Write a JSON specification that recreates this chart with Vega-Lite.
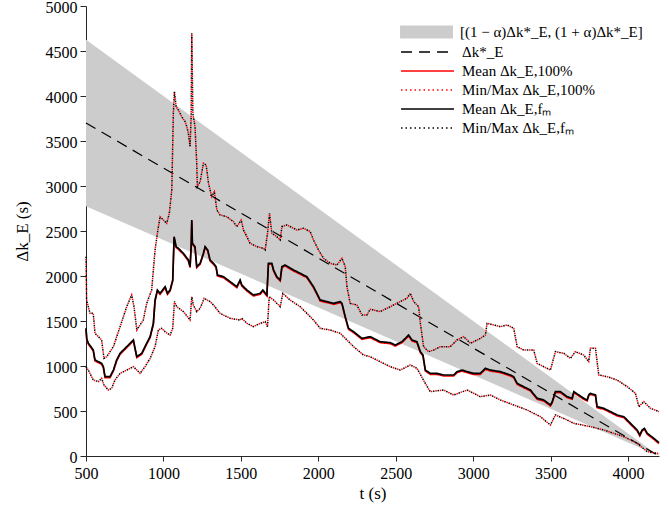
{
  "$schema": "https://vega.github.io/schema/vega-lite/v6.json",
  "width": 573,
  "height": 450,
  "autosize": "none",
  "padding": {"left": 86, "top": 6, "right": 10, "bottom": 54},
  "background": "white",
  "config": {
    "view": {"stroke": null},
    "font": "Liberation Serif",
    "axis": {
      "grid": false,
      "labelFont": "Liberation Serif",
      "labelFontSize": 16,
      "labelColor": "#000",
      "titleFont": "Liberation Serif",
      "titleFontSize": 17,
      "titleFontWeight": "normal",
      "titleColor": "#000",
      "domainColor": "#262626",
      "tickColor": "#262626",
      "domainWidth": 1,
      "tickWidth": 1,
      "format": "d"
    }
  },
  "datasets": {
    "band": [
      {"t": 500, "lo": 2775, "hi": 4625, "k": 3700},
      {"t": 4200, "lo": 0, "hi": 0, "k": 0}
    ],
    "mean": [
      {"t":500,"v":1419},{"t":505,"v":1300},{"t":515,"v":1254},{"t":547,"v":1178},{"t":558,"v":1067},{"t":580,"v":1048},{"t":601,"v":1030},{"t":612,"v":992},{"t":623,"v":881},{"t":655,"v":881},{"t":677,"v":955},{"t":698,"v":1067},{"t":720,"v":1141},{"t":763,"v":1215},{"t":795,"v":1270},{"t":806,"v":1289},{"t":817,"v":1196},{"t":828,"v":1104},{"t":860,"v":1141},{"t":892,"v":1254},{"t":914,"v":1326},{"t":935,"v":1474},{"t":946,"v":1733},{"t":961,"v":1844},{"t":978,"v":1807},{"t":1011,"v":1881},{"t":1026,"v":1807},{"t":1043,"v":1844},{"t":1060,"v":1955},{"t":1069,"v":2437},{"t":1082,"v":2326},{"t":1097,"v":2307},{"t":1129,"v":2252},{"t":1161,"v":2178},{"t":1172,"v":2104},{"t":1179,"v":2326},{"t":1183,"v":2622},{"t":1187,"v":2363},{"t":1204,"v":2326},{"t":1215,"v":2104},{"t":1237,"v":2141},{"t":1258,"v":2252},{"t":1269,"v":2326},{"t":1286,"v":2289},{"t":1301,"v":2178},{"t":1323,"v":2141},{"t":1340,"v":2104},{"t":1349,"v":2011},{"t":1388,"v":1992},{"t":1431,"v":1937},{"t":1474,"v":1881},{"t":1495,"v":1955},{"t":1506,"v":1900},{"t":1539,"v":1844},{"t":1581,"v":1789},{"t":1625,"v":1807},{"t":1642,"v":1844},{"t":1668,"v":1789},{"t":1678,"v":2141},{"t":1700,"v":2141},{"t":1711,"v":2067},{"t":1732,"v":1992},{"t":1754,"v":1955},{"t":1765,"v":2104},{"t":1786,"v":2122},{"t":1840,"v":2067},{"t":1883,"v":2030},{"t":1926,"v":1992},{"t":1969,"v":1881},{"t":1991,"v":1807},{"t":2012,"v":1733},{"t":2056,"v":1715},{"t":2099,"v":1696},{"t":2142,"v":1715},{"t":2153,"v":1696},{"t":2174,"v":1548},{"t":2195,"v":1419},{"t":2228,"v":1381},{"t":2282,"v":1307},{"t":2335,"v":1326},{"t":2400,"v":1270},{"t":2465,"v":1259},{"t":2497,"v":1233},{"t":2540,"v":1270},{"t":2562,"v":1307},{"t":2583,"v":1344},{"t":2605,"v":1289},{"t":2637,"v":1270},{"t":2659,"v":1159},{"t":2676,"v":1122},{"t":2691,"v":955},{"t":2723,"v":918},{"t":2766,"v":918},{"t":2809,"v":900},{"t":2874,"v":900},{"t":2896,"v":937},{"t":2928,"v":955},{"t":2961,"v":937},{"t":3003,"v":918},{"t":3046,"v":918},{"t":3079,"v":974},{"t":3111,"v":955},{"t":3176,"v":937},{"t":3240,"v":900},{"t":3262,"v":881},{"t":3284,"v":807},{"t":3326,"v":770},{"t":3370,"v":733},{"t":3413,"v":641},{"t":3456,"v":622},{"t":3499,"v":567},{"t":3510,"v":600},{"t":3531,"v":715},{"t":3563,"v":715},{"t":3607,"v":659},{"t":3639,"v":641},{"t":3650,"v":715},{"t":3682,"v":678},{"t":3714,"v":641},{"t":3736,"v":622},{"t":3746,"v":678},{"t":3757,"v":696},{"t":3790,"v":678},{"t":3800,"v":548},{"t":3843,"v":530},{"t":3887,"v":493},{"t":3930,"v":456},{"t":3973,"v":437},{"t":4016,"v":363},{"t":4059,"v":289},{"t":4076,"v":233},{"t":4091,"v":289},{"t":4106,"v":307},{"t":4124,"v":252},{"t":4167,"v":196},{"t":4200,"v":148}
    ],
    "minmax": [
      {"s":"min","t":500,"v":992},{"s":"min","t":515,"v":955},{"s":"min","t":547,"v":844},{"s":"min","t":580,"v":826},{"s":"min","t":601,"v":863},{"s":"min","t":616,"v":789},{"s":"min","t":644,"v":733},{"s":"min","t":666,"v":752},{"s":"min","t":687,"v":844},{"s":"min","t":720,"v":918},{"s":"min","t":763,"v":955},{"s":"min","t":806,"v":992},{"s":"min","t":828,"v":955},{"s":"min","t":849,"v":918},{"s":"min","t":881,"v":992},{"s":"min","t":914,"v":1085},{"s":"min","t":946,"v":1215},{"s":"min","t":967,"v":1400},{"s":"min","t":989,"v":1419},{"s":"min","t":1011,"v":1381},{"s":"min","t":1043,"v":1344},{"s":"min","t":1060,"v":1419},{"s":"min","t":1071,"v":1715},{"s":"min","t":1086,"v":1659},{"s":"min","t":1129,"v":1604},{"s":"min","t":1172,"v":1511},{"s":"min","t":1183,"v":1770},{"s":"min","t":1193,"v":1678},{"s":"min","t":1215,"v":1604},{"s":"min","t":1237,"v":1641},{"s":"min","t":1263,"v":1752},{"s":"min","t":1301,"v":1715},{"s":"min","t":1323,"v":1678},{"s":"min","t":1366,"v":1585},{"s":"min","t":1431,"v":1530},{"s":"min","t":1495,"v":1511},{"s":"min","t":1506,"v":1530},{"s":"min","t":1539,"v":1474},{"s":"min","t":1581,"v":1437},{"s":"min","t":1625,"v":1474},{"s":"min","t":1657,"v":1493},{"s":"min","t":1672,"v":1437},{"s":"min","t":1683,"v":1770},{"s":"min","t":1711,"v":1733},{"s":"min","t":1754,"v":1659},{"s":"min","t":1771,"v":1807},{"s":"min","t":1818,"v":1733},{"s":"min","t":1883,"v":1659},{"s":"min","t":1969,"v":1511},{"s":"min","t":2012,"v":1419},{"s":"min","t":2077,"v":1400},{"s":"min","t":2142,"v":1363},{"s":"min","t":2185,"v":1289},{"s":"min","t":2228,"v":1215},{"s":"min","t":2292,"v":1122},{"s":"min","t":2335,"v":1104},{"s":"min","t":2400,"v":1048},{"s":"min","t":2465,"v":992},{"s":"min","t":2529,"v":955},{"s":"min","t":2594,"v":1011},{"s":"min","t":2637,"v":974},{"s":"min","t":2691,"v":807},{"s":"min","t":2723,"v":715},{"s":"min","t":2809,"v":733},{"s":"min","t":2874,"v":678},{"s":"min","t":2961,"v":733},{"s":"min","t":3046,"v":659},{"s":"min","t":3111,"v":678},{"s":"min","t":3176,"v":622},{"s":"min","t":3262,"v":567},{"s":"min","t":3348,"v":511},{"s":"min","t":3434,"v":437},{"s":"min","t":3499,"v":344},{"s":"min","t":3531,"v":456},{"s":"min","t":3607,"v":400},{"s":"min","t":3650,"v":363},{"s":"min","t":3757,"v":326},{"s":"min","t":3843,"v":289},{"s":"min","t":3973,"v":215},{"s":"min","t":4059,"v":141},{"s":"min","t":4124,"v":48},{"s":"min","t":4188,"v":30},{"s":"min","t":4200,"v":20},
      {"s":"max","t":500,"v":2215},{"s":"max","t":504,"v":1733},{"s":"max","t":526,"v":1585},{"s":"max","t":547,"v":1585},{"s":"max","t":558,"v":1363},{"s":"max","t":580,"v":1326},{"s":"max","t":601,"v":1289},{"s":"max","t":616,"v":1085},{"s":"max","t":634,"v":1104},{"s":"max","t":677,"v":1215},{"s":"max","t":720,"v":1437},{"s":"max","t":763,"v":1659},{"s":"max","t":795,"v":1789},{"s":"max","t":810,"v":1659},{"s":"max","t":828,"v":1400},{"s":"max","t":849,"v":1456},{"s":"max","t":870,"v":1511},{"s":"max","t":892,"v":1696},{"s":"max","t":924,"v":1844},{"s":"max","t":946,"v":2289},{"s":"max","t":961,"v":2474},{"s":"max","t":978,"v":2659},{"s":"max","t":1000,"v":2622},{"s":"max","t":1021,"v":2585},{"s":"max","t":1038,"v":2696},{"s":"max","t":1054,"v":2955},{"s":"max","t":1064,"v":3807},{"s":"max","t":1071,"v":4048},{"s":"max","t":1082,"v":3881},{"s":"max","t":1097,"v":3844},{"s":"max","t":1118,"v":3770},{"s":"max","t":1140,"v":3715},{"s":"max","t":1151,"v":3659},{"s":"max","t":1161,"v":3585},{"s":"max","t":1172,"v":3437},{"s":"max","t":1179,"v":3770},{"s":"max","t":1183,"v":4696},{"s":"max","t":1190,"v":3807},{"s":"max","t":1204,"v":3659},{"s":"max","t":1215,"v":3252},{"s":"max","t":1219,"v":2992},{"s":"max","t":1237,"v":3048},{"s":"max","t":1258,"v":3252},{"s":"max","t":1276,"v":3233},{"s":"max","t":1291,"v":3030},{"s":"max","t":1312,"v":2881},{"s":"max","t":1329,"v":2937},{"s":"max","t":1345,"v":2733},{"s":"max","t":1366,"v":2678},{"s":"max","t":1409,"v":2659},{"s":"max","t":1452,"v":2604},{"s":"max","t":1474,"v":2548},{"s":"max","t":1502,"v":2622},{"s":"max","t":1517,"v":2511},{"s":"max","t":1539,"v":2437},{"s":"max","t":1560,"v":2363},{"s":"max","t":1603,"v":2326},{"s":"max","t":1646,"v":2307},{"s":"max","t":1657,"v":2289},{"s":"max","t":1672,"v":2474},{"s":"max","t":1685,"v":2696},{"s":"max","t":1700,"v":2474},{"s":"max","t":1732,"v":2437},{"s":"max","t":1754,"v":2400},{"s":"max","t":1765,"v":2548},{"s":"max","t":1797,"v":2567},{"s":"max","t":1862,"v":2511},{"s":"max","t":1905,"v":2530},{"s":"max","t":1948,"v":2493},{"s":"max","t":1969,"v":2400},{"s":"max","t":2001,"v":2289},{"s":"max","t":2034,"v":2196},{"s":"max","t":2077,"v":2141},{"s":"max","t":2120,"v":2122},{"s":"max","t":2153,"v":2196},{"s":"max","t":2174,"v":2104},{"s":"max","t":2185,"v":1881},{"s":"max","t":2206,"v":1696},{"s":"max","t":2249,"v":1678},{"s":"max","t":2282,"v":1567},{"s":"max","t":2314,"v":1567},{"s":"max","t":2335,"v":1630},{"s":"max","t":2400,"v":1604},{"s":"max","t":2465,"v":1659},{"s":"max","t":2529,"v":1715},{"s":"max","t":2572,"v":1752},{"s":"max","t":2594,"v":1807},{"s":"max","t":2616,"v":1715},{"s":"max","t":2648,"v":1659},{"s":"max","t":2659,"v":1474},{"s":"max","t":2680,"v":1215},{"s":"max","t":2712,"v":1159},{"s":"max","t":2745,"v":1178},{"s":"max","t":2788,"v":1215},{"s":"max","t":2852,"v":1215},{"s":"max","t":2896,"v":1289},{"s":"max","t":2939,"v":1326},{"s":"max","t":2982,"v":1252},{"s":"max","t":3046,"v":1307},{"s":"max","t":3079,"v":1344},{"s":"max","t":3090,"v":1474},{"s":"max","t":3133,"v":1456},{"s":"max","t":3176,"v":1437},{"s":"max","t":3219,"v":1456},{"s":"max","t":3262,"v":1419},{"s":"max","t":3284,"v":1215},{"s":"max","t":3326,"v":1178},{"s":"max","t":3391,"v":1178},{"s":"max","t":3413,"v":1030},{"s":"max","t":3456,"v":992},{"s":"max","t":3499,"v":955},{"s":"max","t":3531,"v":1159},{"s":"max","t":3585,"v":1141},{"s":"max","t":3628,"v":1085},{"s":"max","t":3660,"v":1159},{"s":"max","t":3714,"v":1122},{"s":"max","t":3746,"v":1048},{"s":"max","t":3757,"v":1196},{"s":"max","t":3790,"v":1196},{"s":"max","t":3811,"v":900},{"s":"max","t":3865,"v":881},{"s":"max","t":3930,"v":844},{"s":"max","t":3995,"v":770},{"s":"max","t":4048,"v":696},{"s":"max","t":4070,"v":548},{"s":"max","t":4102,"v":604},{"s":"max","t":4145,"v":530},{"s":"max","t":4200,"v":493}
    ]
  },
  "encoding": {
    "x": {
      "field": "t", "type": "quantitative",
      "scale": {"domain": [500, 4200], "nice": false, "zero": false},
      "axis": {"title": "t (s)", "values": [500,1000,1500,2000,2500,3000,3500,4000], "tickSize": 5, "labelPadding": 4, "titlePadding": 4, "labelFlush": false}
    }
  },
  "layer": [
    {
      "data": {"name": "band"},
      "mark": {"type": "area", "opacity": 1},
      "encoding": {
        "y": {"field": "hi", "type": "quantitative", "scale": {"domain": [0, 5000], "nice": false},
          "axis": {"title": "Δk_E (s)", "values": [0,500,1000,1500,2000,2500,3000,3500,4000,4500,5000], "tickSize": 6, "labelPadding": 3, "titlePadding": 14, "labelOffset": 1.5, "labelFlush": false}},
        "y2": {"field": "lo"},
        "fill": {"datum": "[(1 − α)Δk*_E, (1 + α)Δk*_E]", "type": "nominal",
          "scale": {"domain": ["[(1 − α)Δk*_E, (1 + α)Δk*_E]"], "range": ["#cccccc"]},
          "legend": {"title": null, "orient": "none", "legendX": 331.5, "legendY": 17, "padding": 0,
            "symbolType": "M-2.94,-0.72H2.94V0.72H-2.94Z", "symbolSize": 324, "symbolStrokeWidth": 0,
            "labelOffset": 24.5, "labelFont": "Liberation Serif", "labelFontSize": 15, "labelColor": "#000", "labelLimit": 400}}
      }
    },
    {
      "data": {"name": "band"},
      "mark": {"type": "line", "strokeWidth": 1.2},
      "encoding": {
        "y": {"field": "k", "type": "quantitative"},
        "color": {"datum": "Δk*_E", "type": "nominal",
          "scale": {"domain": ["Δk*_E", "Mean Δk_E,100%", "Min/Max Δk_E,100%", "Mean Δk_E,fₘ", "Min/Max Δk_E,fₘ"],
                    "range": ["#000000", "#ff0000", "#ff0000", "#000000", "#000000"]},
          "legend": {"title": null, "orient": "none", "legendX": 331.5, "legendY": 36, "padding": 0,
            "symbolType": "M-2.94,0H2.94", "symbolSize": 324, "symbolStrokeWidth": 1.5, "rowPadding": 1,
            "labelOffset": 24.5, "labelFont": "Liberation Serif", "labelFontSize": 15, "labelColor": "#000", "labelLimit": 400}},
        "strokeDash": {"datum": "Δk*_E", "type": "nominal",
          "scale": {"domain": ["Δk*_E", "Mean Δk_E,100%", "Min/Max Δk_E,100%", "Mean Δk_E,fₘ", "Min/Max Δk_E,fₘ"],
                    "range": [[11, 7], [1, 0], [1.5, 3], [1, 0], [1.5, 3]]},
          "legend": {"title": null, "orient": "none", "legendX": 331.5, "legendY": 36, "padding": 0,
            "symbolType": "M-2.94,0H2.94", "symbolSize": 324, "symbolStrokeWidth": 1.5, "rowPadding": 1,
            "labelOffset": 24.5, "labelFont": "Liberation Serif", "labelFontSize": 15, "labelColor": "#000", "labelLimit": 400}}
      }
    },
    {
      "data": {"name": "mean"},
      "mark": {"type": "line", "strokeWidth": 1.6, "yOffset": 1},
      "encoding": {
        "y": {"field": "v", "type": "quantitative"},
        "color": {"datum": "Mean Δk_E,100%", "type": "nominal"},
        "strokeDash": {"datum": "Mean Δk_E,100%", "type": "nominal"}
      }
    },
    {
      "data": {"name": "minmax"},
      "mark": {"type": "line", "strokeWidth": 1.5, "strokeDashOffset": 2.25},
      "encoding": {
        "y": {"field": "v", "type": "quantitative"},
        "detail": {"field": "s", "type": "nominal"},
        "color": {"datum": "Min/Max Δk_E,100%", "type": "nominal"},
        "strokeDash": {"datum": "Min/Max Δk_E,100%", "type": "nominal"}
      }
    },
    {
      "data": {"name": "mean"},
      "mark": {"type": "line", "strokeWidth": 1.7},
      "encoding": {
        "y": {"field": "v", "type": "quantitative"},
        "color": {"datum": "Mean Δk_E,fₘ", "type": "nominal"},
        "strokeDash": {"datum": "Mean Δk_E,fₘ", "type": "nominal"}
      }
    },
    {
      "data": {"name": "minmax"},
      "mark": {"type": "line", "strokeWidth": 1.5},
      "encoding": {
        "y": {"field": "v", "type": "quantitative"},
        "detail": {"field": "s", "type": "nominal"},
        "color": {"datum": "Min/Max Δk_E,fₘ", "type": "nominal"},
        "strokeDash": {"datum": "Min/Max Δk_E,fₘ", "type": "nominal"}
      }
    }
  ]
}
